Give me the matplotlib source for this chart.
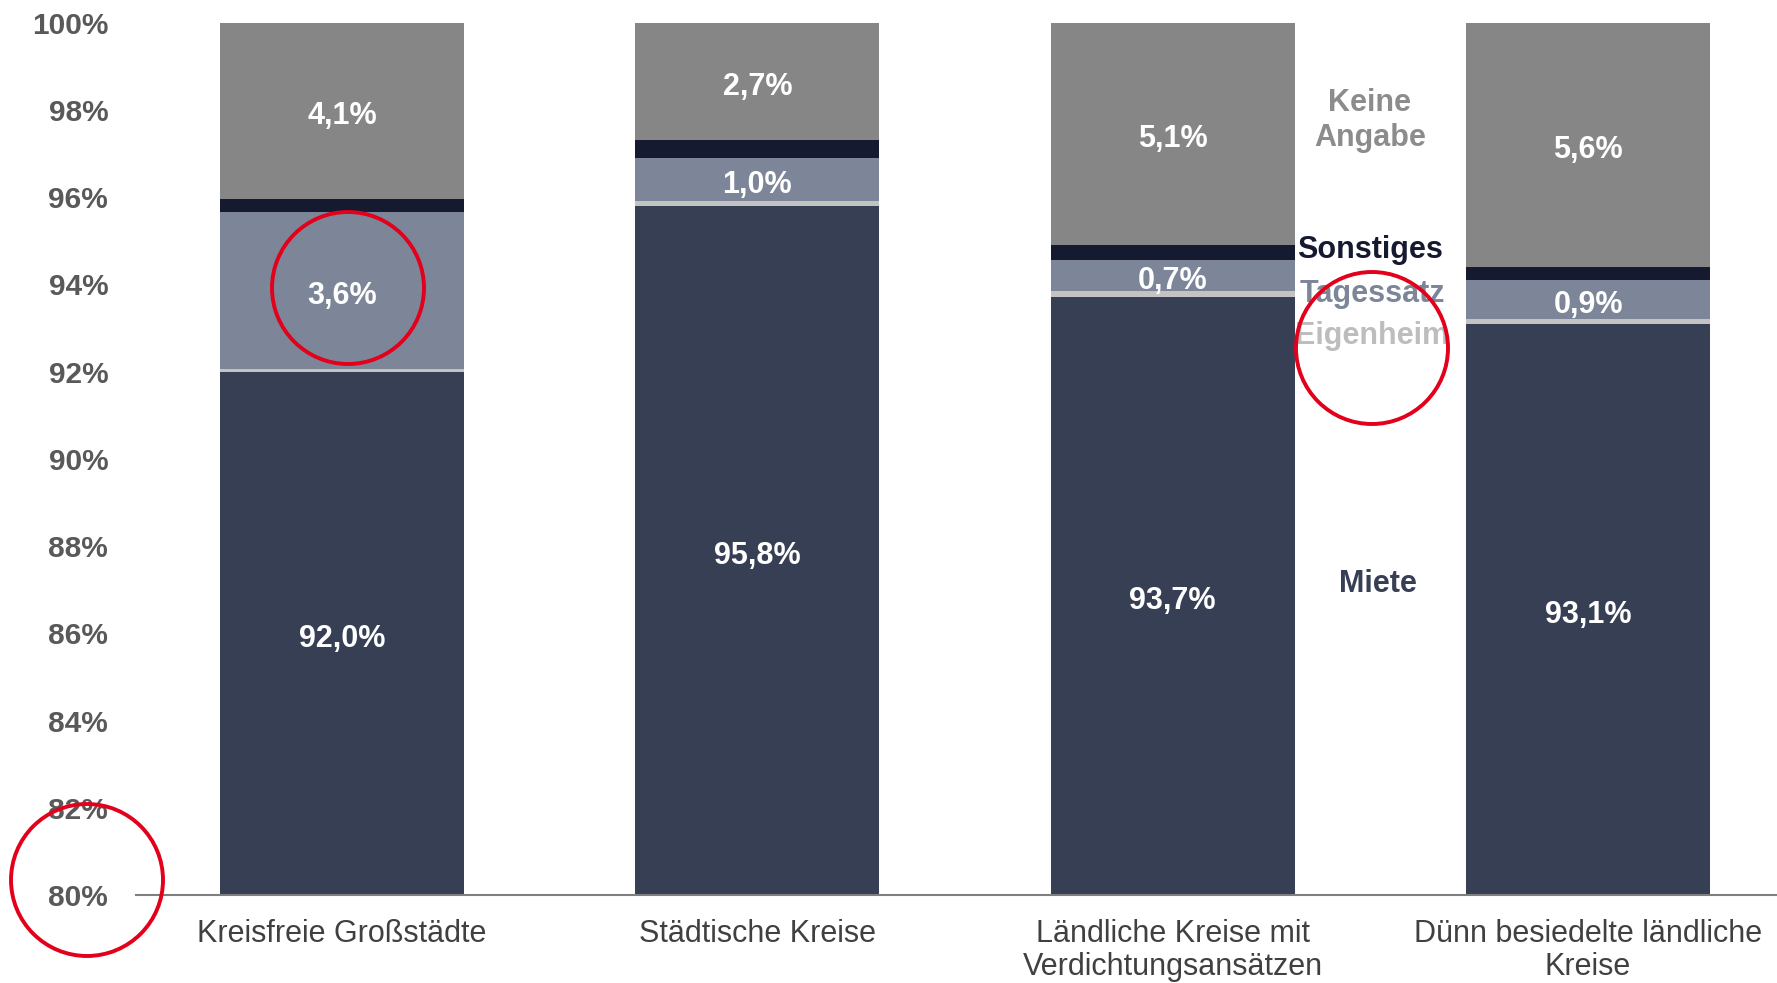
import matplotlib.pyplot as plt
from matplotlib.patches import Ellipse

plt.rcParams["font.family"] = ["Liberation Sans", "DejaVu Sans"]

categories = [
    "Kreisfreie Großstädte",
    "Städtische Kreise",
    "Ländliche Kreise mit\nVerdichtungsansätzen",
    "Dünn besiedelte ländliche\nKreise",
]
series_names = ["Miete", "Eigenheim", "Tagessatz", "Sonstiges", "Keine Angabe"]
miete = [92.0, 95.8, 93.7, 93.1]
eigenheim = [0.05, 0.1, 0.15, 0.1]
tagessatz = [3.6, 1.0, 0.7, 0.9]
sonstiges = [0.3, 0.4, 0.35, 0.3]
keine_angabe = [4.1, 2.7, 5.1, 5.6]
labelled = ["Miete", "Tagessatz", "Keine Angabe"]
yticks = [80, 82, 84, 86, 88, 90, 92, 94, 96, 98, 100]

colors = {
    "Miete": "#373f55",
    "Eigenheim": "#c3c3c3",
    "Tagessatz": "#7d8599",
    "Sonstiges": "#151a30",
    "Keine Angabe": "#868686",
}
text_colors = {
    "Miete": "#373f55",
    "Eigenheim": "#bdbdbd",
    "Tagessatz": "#7d8599",
    "Sonstiges": "#151a30",
    "Keine Angabe": "#8c8c8c",
}
# position of the side legend labels (data units)
legend_y = {"Keine Angabe": 97.75, "Sonstiges": 94.78, "Tagessatz": 93.77,
            "Eigenheim": 92.82, "Miete": 87.12}
legend_x = {"Keine Angabe": 2.475, "Sonstiges": 2.475, "Tagessatz": 2.48,
            "Eigenheim": 2.48, "Miete": 2.495}

fig = plt.figure(figsize=(17.77, 9.83), dpi=100)
ax = fig.add_axes([0.0765, 0.0895, 0.9235, 0.8875])

data = dict(zip(series_names, [miete, eigenheim, tagessatz, sonstiges, keine_angabe]))
x = list(range(len(categories)))
bottom = [0.0] * len(categories)
for name in series_names:
    vals = data[name]
    ax.bar(x, vals, bottom=bottom, width=0.587, color=colors[name], linewidth=0)
    if name in labelled:
        for i, v in enumerate(vals):
            lo = max(bottom[i], 80)
            hi = min(bottom[i] + v, 100)
            ax.text(i, (lo + hi) / 2 - 0.12, f"{v:.1f}%".replace(".", ","),
                    ha="center", va="center", color="white",
                    fontsize=22, fontweight="bold")
    bottom = [b + v for b, v in zip(bottom, vals)]

for name in series_names:
    ax.text(legend_x[name], legend_y[name], name.replace(" ", "\n"), ha="center",
            va="center", color=text_colors[name], fontsize=22, fontweight="bold",
            linespacing=1.22)

ax.set_ylim(80, 100)
ax.set_xlim(-0.496, 3.455)
ax.set_yticks(yticks)
ax.set_yticklabels([f"{t}%" for t in yticks], fontsize=21.5, fontweight="bold", color="#595959")
ax.set_xticks(x)
ax.set_xticklabels(categories, fontsize=22, color="#404040", linespacing=1.15)
ax.tick_params(axis="both", length=0)
ax.tick_params(axis="y", pad=20)
ax.tick_params(axis="x", pad=17)
for s in ["top", "right", "left"]:
    ax.spines[s].set_visible(False)
ax.spines["bottom"].set_color("#7f7f7f")
ax.spines["bottom"].set_linewidth(1.5)

# red highlight circles (figure pixel positions)
W, H = 1777, 983
for cx, cy, r in [(348, 288, 76), (1372, 348, 76), (87, 880, 76)]:
    fig.patches.append(Ellipse((cx / W, 1 - cy / H), 2 * r / W, 2 * r / H,
                               transform=fig.transFigure, fill=False,
                               edgecolor="#e2001a", linewidth=2.8))

fig.savefig("out.png", dpi=100)
